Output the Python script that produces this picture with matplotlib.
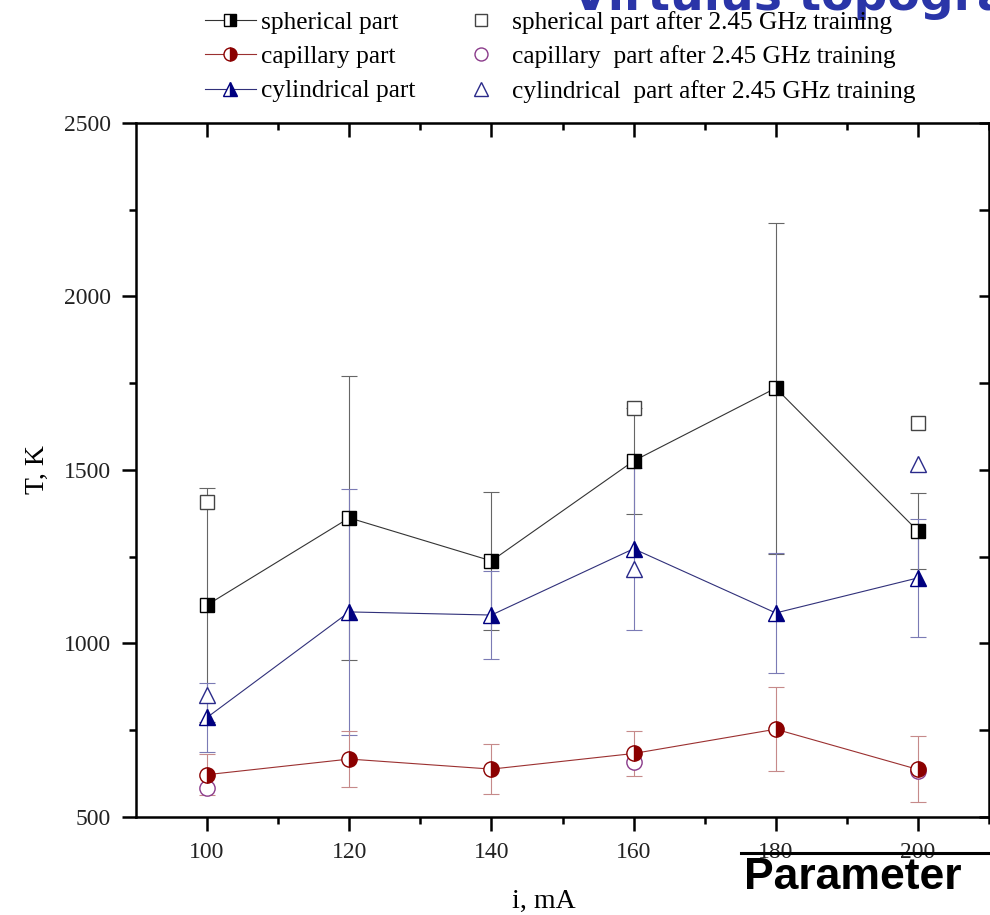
import numpy as np
import matplotlib
matplotlib.use("Agg")
import matplotlib.pyplot as plt
from matplotlib.lines import Line2D

# discharge current, mA
current = [100, 120, 140, 160, 180, 200]

# temperatures (K) with error bars
spherical = [1111, 1362, 1238, 1526, 1736, 1324]
spherical_err = [337, 409, 200, 152, 477, 110]
capillary = [622, 667, 638, 683, 753, 637]
capillary_err = [60, 80, 72, 66, 121, 95]
cylindrical = [787, 1091, 1082, 1273, 1088, 1189]
cylindrical_err = [100, 354, 128, 233, 172, 170]

# after 2.45 GHz training (only some currents)
current_after = [100, 160, 200]
spherical_after = [1408, 1678, 1635]
capillary_after = [584, 658, 632]
cylindrical_after = [852, 1216, 1517]

serif = "Liberation Serif"

fig = plt.figure(figsize=(9.9, 9.15), dpi=100)
ax = fig.add_axes([0.1374, 0.1071, 0.8616, 0.7585])

# error bars first
ax.errorbar(current, spherical, yerr=spherical_err, fmt="none", ecolor="#666666",
            elinewidth=0.8, capsize=6, capthick=0.8, zorder=1)
ax.errorbar(current, cylindrical, yerr=cylindrical_err, fmt="none", ecolor="#7b7bb5",
            elinewidth=0.8, capsize=6, capthick=0.8, zorder=1)
ax.errorbar(current, capillary, yerr=capillary_err, fmt="none", ecolor="#c68a8a",
            elinewidth=0.8, capsize=6, capthick=0.8, zorder=1)

# open markers (after training)
h4, = ax.plot(current_after, spherical_after, ls="none", marker="s", ms=10,
              mfc="white", mec="#444444", mew=1.0, zorder=3)
h5, = ax.plot(current_after, capillary_after, ls="none", marker="o", ms=11,
              mfc="white", mec="#8a3a8a", mew=1.0, zorder=3)
h6, = ax.plot(current_after, cylindrical_after, ls="none", marker="^", ms=12,
              mfc="white", mec="#2a2a8a", mew=1.0, zorder=3)

# main series
h1, = ax.plot(current, spherical, color="#333333", lw=0.8, marker="s", ms=10,
              fillstyle="right", mfc="black", mfcalt="white", mec="black", mew=1.0, zorder=4)
h2, = ax.plot(current, capillary, color="#9b3030", lw=0.8, marker="o", ms=11,
              fillstyle="right", mfc="#8b0000", mfcalt="white", mec="#8b0000", mew=1.0, zorder=4)
h3, = ax.plot(current, cylindrical, color="#30307a", lw=0.8, marker="^", ms=12,
              fillstyle="right", mfc="#000080", mfcalt="white", mec="#000080", mew=1.0, zorder=4)

ax.set_xlim(90, 210)
ax.set_ylim(500, 2500)
ax.set_xticks([100, 120, 140, 160, 180, 200])
ax.set_xticks([110, 130, 150, 170, 190, 210], minor=True)
ax.set_yticks([500, 1000, 1500, 2000, 2500])
ax.set_yticks([750, 1250, 1750, 2250], minor=True)
ax.tick_params(which="major", direction="out", length=10, width=1.8, labelsize=17, pad=8)
ax.tick_params(which="minor", direction="out", length=5, width=1.8)
for lab in ax.get_xticklabels() + ax.get_yticklabels():
    lab.set_fontfamily(serif)
    lab.set_color("#222222")
for sp in ax.spines.values():
    sp.set_linewidth(1.8)

# inward ticks on top and right
top = ax.secondary_xaxis("top")
top.set_xticks([100, 120, 140, 160, 180, 200])
top.set_xticks([110, 130, 150, 170, 190, 210], minor=True)
top.tick_params(which="major", direction="in", length=10, width=1.8, labeltop=False)
top.tick_params(which="minor", direction="in", length=5, width=1.8)
right = ax.secondary_yaxis("right")
right.set_yticks([500, 1000, 1500, 2000, 2500])
right.set_yticks([750, 1250, 1750, 2250], minor=True)
right.tick_params(which="both", direction="in", length=7, width=1.8, labelright=False)

ax.set_xlabel("i, mA", fontfamily=serif, fontsize=20)
ax.xaxis.set_label_coords(0.478, -0.104)
ax.set_ylabel("T, K", fontfamily=serif, fontsize=20, labelpad=10)

fig.legend([h1, h2, h3, h4, h5, h6],
           ["spherical part", "capillary part", "cylindrical part",
            "spherical part after 2.45 GHz training",
            "capillary  part after 2.45 GHz training",
            "cylindrical  part after 2.45 GHz training"],
           ncol=2, frameon=False, loc="upper left", bbox_to_anchor=(0.184, 1.013),
           prop={"family": serif, "size": 18.3}, handlelength=2.0, markerscale=0.85,
           columnspacing=1.6, labelspacing=0.45, handletextpad=0.2)

# clipped heading at the top right
fig.text(0.578, 0.9895, "Virtulus topografija", color="#2a35a8", fontsize=34,
         fontweight="bold", fontfamily="DejaVu Sans", va="baseline", ha="left")

# "Parameter" note with rule
fig.add_artist(Line2D([0.748, 1.0], [0.0678, 0.0678], color="black", lw=2.2,
                      transform=fig.transFigure))
fig.text(0.752, 0.0405, "Parameter", fontsize=32, fontweight="bold",
         fontfamily="Liberation Sans", va="center", ha="left")

fig.savefig("out.png", dpi=100)
